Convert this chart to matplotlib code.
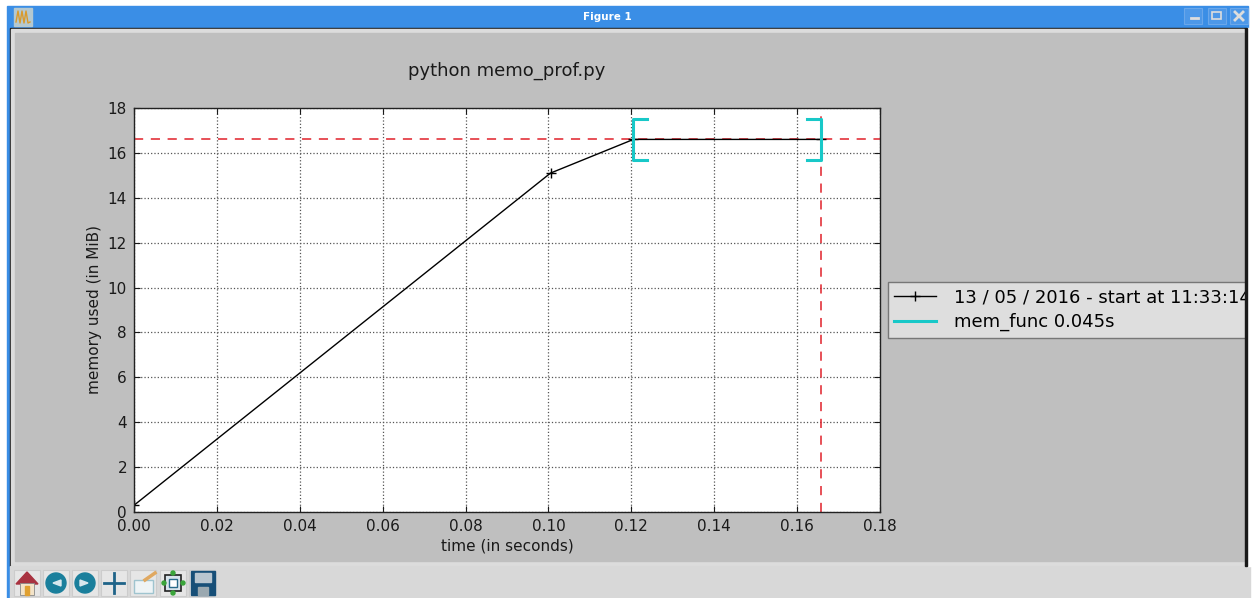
import matplotlib
matplotlib.use("Agg")
import matplotlib.pyplot as plt
from matplotlib.patches import Rectangle, Circle, Polygon

W, H = 1253, 598

# values
time_s = [0.0, 0.1005, 0.1205, 0.1658]
memory = [0.3, 15.1, 16.6, 16.6]
start_label = "13 / 05 / 2016 - start at 11:33:14.4"
func_label = "mem_func 0.045s"
func_start = 0.1203
func_end = 0.1658
bracket_low = 15.7
bracket_high = 17.5
bracket_cap = 0.0035
peak_mem = 16.6
x_ticks = [0.00, 0.02, 0.04, 0.06, 0.08, 0.10, 0.12, 0.14, 0.16, 0.18]
y_ticks = [0, 2, 4, 6, 8, 10, 12, 14, 16, 18]

GREY = "#bfbfbf"
TXT = "#1a1a1a"


def to_axes_box(left, top, right, bottom):
    return [left / W, 1 - bottom / H, (right - left) / W, (bottom - top) / H]


fig = plt.figure(figsize=(W / 100, H / 100), dpi=100, facecolor="white")

ax = fig.add_axes(to_axes_box(134, 108, 880, 512), zorder=2)
ax.set_xlim(0, 0.18)
ax.set_ylim(0, 18)
ax.set_xticks(x_ticks)
ax.set_xticklabels(["%.2f" % t for t in x_ticks])
ax.set_yticks(y_ticks)
ax.tick_params(direction="in", top=True, right=True, labelsize=11, length=4, pad=5,
               colors=TXT, width=0.8)
ax.grid(True, color="#555555", linestyle=":", linewidth=0.9)
ax.set_axisbelow(True)
for s in ax.spines.values():
    s.set_color("#222222")
    s.set_linewidth(1.0)

line, = ax.plot(time_s, memory, color="black", marker="+", markersize=7, linewidth=1.0,
                label=start_label)
ax.axhline(peak_mem, color="#e0202a", linestyle="--", linewidth=1.1, dashes=(6, 5), zorder=1.5)
ax.axvline(func_end, color="#e0202a", linestyle="--", linewidth=1.1, dashes=(6, 5), zorder=1.5)

cyan = "#18c8c8"
ax.plot([func_start + bracket_cap, func_start, func_start, func_start + bracket_cap],
        [bracket_high, bracket_high, bracket_low, bracket_low], color=cyan, linewidth=2.2,
        label=func_label)
ax.plot([func_end - bracket_cap, func_end, func_end, func_end - bracket_cap],
        [bracket_high, bracket_high, bracket_low, bracket_low], color=cyan, linewidth=2.2)

ax.set_xlabel("time (in seconds)", fontsize=11, color=TXT, labelpad=3)
ax.set_ylabel("memory used (in MiB)", fontsize=11, color=TXT, labelpad=4)
ax.set_title("python memo_prof.py", fontsize=13, color=TXT, pad=23)

leg = ax.legend(loc="center left", bbox_to_anchor=(1.0108, 0.5), fontsize=13, fancybox=False,
                framealpha=1, facecolor="#dedede", edgecolor="#777777", borderaxespad=0,
                borderpad=0.35, labelspacing=0.35, handlelength=2.3, handletextpad=1.0)
leg.set_clip_on(False)

# window chrome behind the plot
back = fig.add_axes([0, 0, 1, 1], zorder=1)
back.set_xlim(0, W)
back.set_ylim(H, 0)
back.axis("off")
back.add_patch(Rectangle((7, 6), 1241, 592, color="#3a8ee6"))
back.add_patch(Rectangle((10, 28), 1235, 538, color="#1a1a1a"))
back.add_patch(Rectangle((11, 29), 1233, 536, color="#dcdcdc"))
back.add_patch(Rectangle((15, 33), 1232, 528, color=GREY))
back.add_patch(Rectangle((10, 566), 1240, 32, color="#d8d8d8"))
back.text(607, 17, "Figure 1", color="white", fontsize=7.5, fontweight="bold",
          ha="center", va="center")
back.add_patch(Rectangle((14, 8), 18, 18, color="#b4c8d0"))
back.plot([16, 18, 20, 22, 24, 26, 28, 30], [22, 11, 23, 11, 23, 11, 23, 22],
          color="#d99a2b", linewidth=1)
for bx in [1184, 1208, 1230]:
    back.add_patch(Rectangle((bx, 8), 18, 16, facecolor="#4d98e8", edgecolor="#6aa7ea", linewidth=0.8))
back.plot([1191, 1198], [18, 18], color="#dddddd", linewidth=2)
back.add_patch(Rectangle((1212, 12), 9, 7, fill=False, edgecolor="#dddddd", linewidth=1.2))
back.plot([1235, 1243], [12, 20], color="#dddddd", linewidth=2)
back.plot([1235, 1243], [20, 12], color="#dddddd", linewidth=2)

# strip over the right side so the legend gets cut off like in the window
front = fig.add_axes([0, 0, 1, 1], zorder=5)
front.set_xlim(0, W)
front.set_ylim(H, 0)
front.axis("off")
front.add_patch(Rectangle((1247, 28), 6, 538, color="white"))
front.add_patch(Rectangle((1245, 28), 2, 538, color="#1a1a1a"))

# toolbar icons
for bx in [14, 43, 72, 101, 130, 160, 189]:
    front.add_patch(Rectangle((bx, 570), 26, 26, facecolor="#e6e6e6", edgecolor="#cccccc", linewidth=0.8))
front.add_patch(Polygon([(16, 584), (27, 572), (38, 584)], color="#a83240"))
front.add_patch(Rectangle((20, 583), 14, 12, facecolor="#f3e3c8", edgecolor="#888888", linewidth=0.6))
front.add_patch(Rectangle((25, 586), 4, 9, color="#e0a030"))
for cx, arrow in [(56, [(61, 580), (53, 583), (61, 586)]), (85, [(80, 580), (88, 583), (80, 586)])]:
    front.add_patch(Circle((cx, 583), 10, color="#1a7f9c"))
    front.add_patch(Polygon(arrow, color="#d8e8ee"))
front.plot([104, 124], [583, 583], color="#1f6388", linewidth=2)
front.plot([114, 114], [573, 593], color="#1f6388", linewidth=2)
front.add_patch(Rectangle((134, 580), 19, 13, facecolor="#eef4f6", edgecolor="#9fc4cf", linewidth=1))
front.plot([145, 155], [580, 573], color="#e0a860", linewidth=2.5)
front.add_patch(Rectangle((165, 575), 16, 16, facecolor="#d8e4ec", edgecolor="#222222", linewidth=1.2))
front.add_patch(Rectangle((169, 579), 8, 8, facecolor="white", edgecolor="#2a6a8a", linewidth=1))
for px_, py_ in [(173, 573), (173, 593), (164, 583), (183, 583)]:
    front.add_patch(Circle((px_, py_), 2, color="#3aa53a"))
front.add_patch(Rectangle((191, 571), 24, 24, color="#174f78"))
front.add_patch(Rectangle((195, 573), 16, 9, color="#b9c6d0"))
front.add_patch(Rectangle((198, 587), 10, 8, color="#9aa8b0"))

fig.savefig("out.png", dpi=100, facecolor=fig.get_facecolor())
